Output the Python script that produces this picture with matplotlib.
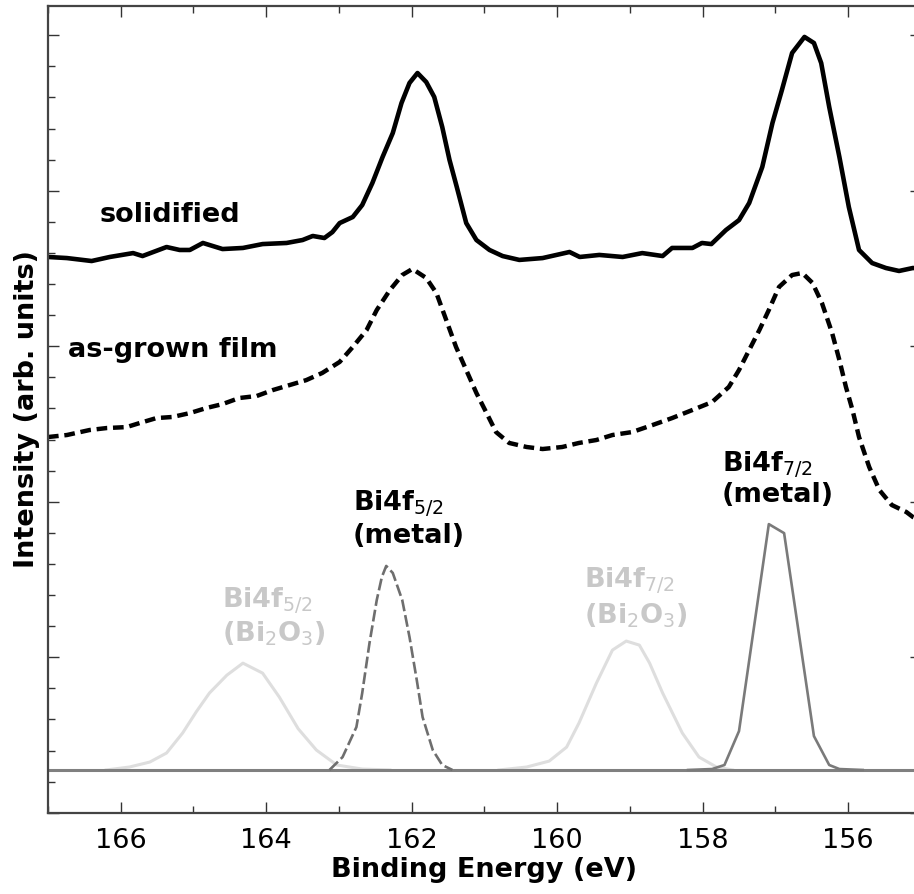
import numpy as np
import matplotlib
matplotlib.use('Agg')
import matplotlib.pyplot as plt
from matplotlib.ticker import MultipleLocator

# Spectra (binding energy in eV, intensity in arb. units).
solid_x = [167.00, 166.74, 166.40, 166.15, 165.83, 165.70, 165.37, 165.19, 165.05, 164.87,
           164.60, 164.32, 164.05, 163.72, 163.50, 163.36, 163.20, 163.09, 162.99, 162.81,
           162.68, 162.54, 162.40, 162.26, 162.14, 162.03, 161.92, 161.80, 161.69, 161.58,
           161.48, 161.38, 161.25, 161.11, 160.93, 160.75, 160.52, 160.20, 159.83, 159.69,
           159.42, 159.10, 158.83, 158.55, 158.42, 158.14, 158.01, 157.88, 157.68, 157.50,
           157.36, 157.18, 157.04, 156.91, 156.77, 156.60, 156.47, 156.37, 156.26, 156.12,
           155.99, 155.85, 155.67, 155.48, 155.30, 155.11, 155.00]
solid_y = [3.574, 3.567, 3.548, 3.574, 3.599, 3.580, 3.638, 3.619, 3.619, 3.664,
           3.625, 3.632, 3.657, 3.664, 3.683, 3.709, 3.696, 3.734, 3.792, 3.831,
           3.908, 4.050, 4.217, 4.371, 4.564, 4.693, 4.757, 4.699, 4.603, 4.410,
           4.198, 4.024, 3.792, 3.683, 3.619, 3.580, 3.555, 3.567, 3.606, 3.574,
           3.587, 3.574, 3.599, 3.580, 3.632, 3.632, 3.664, 3.657, 3.747, 3.811,
           3.921, 4.153, 4.436, 4.648, 4.886, 4.989, 4.950, 4.821, 4.539, 4.217,
           3.895, 3.619, 3.535, 3.503, 3.484, 3.503, 3.50]

grown_x = [167.00, 166.74, 166.43, 166.19, 165.92, 165.74, 165.51, 165.29, 165.05, 164.82,
           164.60, 164.37, 164.13, 163.91, 163.68, 163.45, 163.23, 162.99, 162.81, 162.62,
           162.48, 162.30, 162.13, 161.99, 161.80, 161.66, 161.52, 161.39, 161.25, 161.11,
           160.97, 160.84, 160.66, 160.42, 160.20, 159.93, 159.70, 159.46, 159.24, 158.97,
           158.69, 158.42, 158.14, 157.87, 157.64, 157.50, 157.36, 157.22, 157.09, 156.95,
           156.77, 156.63, 156.49, 156.36, 156.22, 156.12, 156.03, 155.94, 155.85, 155.71,
           155.57, 155.40, 155.20, 155.11, 155.00]
grown_y = [2.416, 2.429, 2.461, 2.474, 2.480, 2.506, 2.538, 2.545, 2.570, 2.603,
           2.628, 2.667, 2.680, 2.718, 2.750, 2.782, 2.828, 2.899, 2.995, 3.104,
           3.233, 3.361, 3.458, 3.497, 3.439, 3.342, 3.162, 2.995, 2.847, 2.699,
           2.570, 2.448, 2.378, 2.352, 2.339, 2.352, 2.378, 2.397, 2.429, 2.448,
           2.493, 2.538, 2.590, 2.641, 2.738, 2.847, 2.976, 3.104, 3.233, 3.381,
           3.458, 3.471, 3.407, 3.278, 3.085, 2.911, 2.738, 2.590, 2.416, 2.223,
           2.075, 1.979, 1.934, 1.902, 1.88]

baseline = 0.275

# Fitted components
ox52_x = [166.20, 165.88, 165.60, 165.37, 165.15, 164.96, 164.78, 164.54, 164.32, 164.05,
          163.82, 163.56, 163.31, 163.03, 162.68, 162.30]
ox52_y = [0.275, 0.294, 0.326, 0.384, 0.512, 0.650, 0.770, 0.885, 0.962, 0.898,
          0.744, 0.540, 0.403, 0.307, 0.281, 0.275]

ox72_x = [160.80, 160.42, 160.11, 159.87, 159.70, 159.46, 159.24, 159.05, 158.87, 158.73,
          158.55, 158.28, 158.05, 157.81, 157.59]
ox72_y = [0.275, 0.294, 0.332, 0.422, 0.577, 0.834, 1.046, 1.104, 1.078, 0.963,
          0.770, 0.513, 0.358, 0.294, 0.275]

met52_x = [163.13, 162.95, 162.76, 162.68, 162.58, 162.48, 162.41, 162.35, 162.26, 162.13,
           162.03, 161.93, 161.85, 161.71, 161.58, 161.44]
met52_y = [0.275, 0.358, 0.551, 0.770, 1.091, 1.368, 1.516, 1.587, 1.542, 1.368,
           1.130, 0.853, 0.615, 0.403, 0.307, 0.275]

met72_x = [158.20, 157.87, 157.70, 157.50, 157.09, 156.88, 156.47, 156.26, 156.12, 155.80]
met72_y = [0.275, 0.281, 0.307, 0.525, 1.856, 1.798, 0.493, 0.307, 0.281, 0.275]

fig = plt.figure(figsize=(9.14, 8.94), dpi=100)
ax = fig.add_axes([0.0525, 0.0909, 0.955, 0.9024])

ax.plot(ox52_x, ox52_y, color='#dedede', lw=2.2, solid_joinstyle='round')
ax.plot(ox72_x, ox72_y, color='#dedede', lw=2.2, solid_joinstyle='round')
ax.axhline(baseline, color='#808080', lw=2.2)
ax.plot(met52_x, met52_y, color='#6e6e6e', lw=1.9, linestyle=(0, (4.5, 1.5)))
ax.plot(met72_x, met72_y, color='#7a7a7a', lw=1.9)
ax.plot(grown_x, grown_y, color='black', lw=3.2, linestyle=(0, (2.4, 1.3)))
ax.plot(solid_x, solid_y, color='black', lw=3.3, solid_joinstyle='round')

ax.set_xlim(167.0, 155.0)
ax.set_ylim(0, 5.188)
ax.xaxis.set_major_locator(MultipleLocator(2))
ax.xaxis.set_minor_locator(MultipleLocator(1))
ax.yaxis.set_major_locator(MultipleLocator(1))
ax.yaxis.set_minor_locator(MultipleLocator(0.2))
ax.tick_params(which='both', direction='in', top=True, right=True, color='#333333',
               width=1.0, labelleft=False, labelsize=19.5, pad=11)
ax.tick_params(which='major', length=8)
ax.tick_params(which='minor', length=5)
for sp in ax.spines.values():
    sp.set_linewidth(1.6)
    sp.set_color('#444444')

ax.set_xlabel('Binding Energy (eV)', fontsize=19.5, fontweight='bold', labelpad=2)
ax.set_ylabel('Intensity (arb. units)', fontsize=19.5, fontweight='bold', labelpad=6)

fs = 19.5
ax.text(166.29, 3.80, 'solidified', fontsize=fs, fontweight='bold')
ax.text(166.73, 2.93, 'as-grown film', fontsize=fs, fontweight='bold')
ax.text(162.81, 1.934, r'Bi4f$_{5/2}$', fontsize=fs, fontweight='bold')
ax.text(162.81, 1.735, '(metal)', fontsize=fs, fontweight='bold')
ax.text(157.74, 2.191, r'Bi4f$_{7/2}$', fontsize=fs, fontweight='bold')
ax.text(157.74, 1.998, '(metal)', fontsize=fs, fontweight='bold')
ox_col = '#c8c8c8'
ax.text(164.61, 1.316, r'Bi4f$_{5/2}$', fontsize=fs, fontweight='bold', color=ox_col)
ax.text(164.61, 1.098, r'(Bi$_2$O$_3$)', fontsize=fs, fontweight='bold', color=ox_col)
ax.text(159.63, 1.439, r'Bi4f$_{7/2}$', fontsize=fs, fontweight='bold', color=ox_col)
ax.text(159.63, 1.214, r'(Bi$_2$O$_3$)', fontsize=fs, fontweight='bold', color=ox_col)

fig.savefig('out.png', dpi=100)
